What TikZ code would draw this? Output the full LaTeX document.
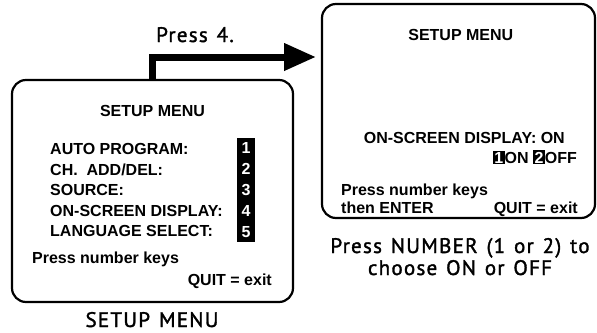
\documentclass[tikz,border=0pt]{standalone}
\usepackage{fontspec}
\setmainfont{Liberation Sans}
\newfontfamily\capfont[FakeBold=1.6,LetterSpace=6,WordSpace=1.3]{PT Sans}
\usetikzlibrary{arrows.meta}

\newcommand{\keybox}[1]{{\setlength{\fboxsep}{1.4pt}\colorbox{black}{\color{white}#1}}}

\begin{document}
\begin{tikzpicture}[x=1pt,y=-1pt,
  screen/.style={draw, line width=2.2pt, rounded corners=14pt, inner sep=0pt},
  osd/.style={font=\fontsize{16}{18}\selectfont\bfseries, inner sep=0pt},
  key/.style={fill=black, text=white, font=\fontsize{16}{18}\selectfont\bfseries, inner sep=0pt, minimum width=18pt, minimum height=21pt},
  captext/.style={font=\fontsize{21}{22}\selectfont\capfont, inner sep=0pt}]
  \useasboundingbox (0,0) rectangle (597,332);

  % the two screens
  \node[screen, minimum width=281pt, minimum height=222pt] (menu) at (152.5,191) {};
  \node[screen, minimum width=273pt, minimum height=214pt] (osdmenu) at (458.5,111) {};

  % setup menu
  \node[osd, anchor=base] (title) at (152.5,116) {SETUP MENU};
  \foreach \txt [count=\i] in {AUTO PROGRAM:, CH.\ \ ADD/DEL:, SOURCE:, ON-SCREEN DISPLAY:, LANGUAGE SELECT:} {
    \node[osd, anchor=base west] (item\i) at (50,134+20.5*\i) {\txt};
    \node[key] (key\i) at (246,127.6+20.8*\i) {\i};
  }
  \node[osd, anchor=base west] (hint) at (32,263) {Press number keys};
  \node[osd, anchor=base east] (quit) at (272,285) {QUIT = exit};

  % on-screen display menu
  \node[osd, anchor=base] (title2) at (460.8,40) {SETUP MENU};
  \node[osd, anchor=base east] (state) at (565,143) {ON-SCREEN DISPLAY: ON};
  \node[osd, anchor=base east] (choice) at (577,163) {\keybox{1}ON \keybox{2}OFF};
  \node[osd, anchor=base west] (hint2) at (341,195) {Press number keys};
  \node[osd, anchor=base west] (enter) at (341,213) {then ENTER};
  \node[osd, anchor=base east] (quit2) at (578,213) {QUIT = exit};

  % captions
  \node[captext, anchor=base west] (press) at (156,42) {Press 4.};
  \node[captext, anchor=base] (cap1) at (152,327) {SETUP MENU};
  \node[captext, anchor=base] (cap2) at (460,253) {Press NUMBER (1 or 2) to};
  \node[captext, anchor=base] (cap3) at (460,275) {choose ON or OFF};

  % arrow
  \coordinate (tip) at (316,57);
  \draw[line width=7pt, -{Triangle[length=32pt,width=26pt]}] (menu.north) |- (tip);
\end{tikzpicture}
\end{document}
